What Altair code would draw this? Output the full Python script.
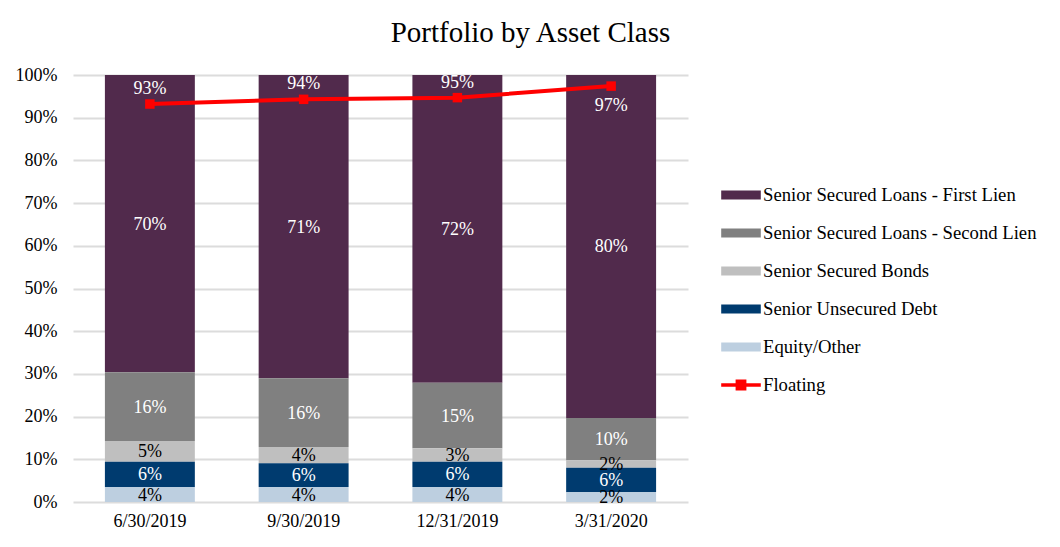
import altair as alt
import pandas as pd

dates = ["6/30/2019", "9/30/2019", "12/31/2019", "3/31/2020"]
cats = [
    "Senior Secured Loans - First Lien",
    "Senior Secured Loans - Second Lien",
    "Senior Secured Bonds",
    "Senior Unsecured Debt",
    "Equity/Other",
]
first_lien = [69.6, 71.0, 72.1, 80.3]
second_lien = [16.1, 16.1, 15.3, 9.9]
bonds = [4.9, 3.8, 3.2, 1.8]
unsecured = [5.9, 5.6, 5.9, 5.7]
equity = [3.5, 3.5, 3.5, 2.3]
floating = [93.2, 94.3, 94.7, 97.4]

colors = ["#512a4c", "#808080", "#bfbfbf", "#003b6f", "#bdcfe0"]

series = [first_lien, second_lien, bonds, unsecured, equity]
rows = []
for ci, (cat, vals) in enumerate(zip(cats, series)):
    for d, v in zip(dates, vals):
        rows.append({"date": d, "cat": cat, "value": v, "ord": len(cats) - ci})
df = pd.DataFrame(rows)
fl = pd.DataFrame({"date": dates, "v": floating, "series": ["Floating"] * 4})

FONT = "Liberation Serif"

x = alt.X("date:N", sort=dates, title=None,
          scale=alt.Scale(paddingInner=0.415, paddingOuter=0.2075),
          axis=alt.Axis(labelAngle=0, ticks=False, domain=False, labelPadding=10,
                        labelFontSize=18, labelFont=FONT, labelColor="black"))
yscale = alt.Scale(domain=[0, 100])

bar_path = "M-1.1,-0.25H1.1V0.25H-1.1Z"
line_path = "M-1.1,-0.1H1.1V0.1H-1.1Z M-0.3,-0.3H0.3V0.3H-0.3Z"

bars = alt.Chart(df).mark_bar().encode(
    x=x,
    y=alt.Y("value:Q", stack="zero", scale=yscale, title=None,
            axis=alt.Axis(values=list(range(0, 101, 10)), labelExpr="datum.value + '%'",
                          ticks=False, domain=False, labelPadding=16,
                          labelFontSize=18, labelFont=FONT, labelColor="black",
                          gridColor="#dcdcdc", gridWidth=2)),
    color=alt.Color("cat:N", scale=alt.Scale(domain=cats, range=colors),
                    legend=alt.Legend(title=None, orient="none", legendX=649, legendY=101,
                                      symbolType=bar_path, symbolSize=1296,
                                      labelFont=FONT, labelFontSize=18.7, labelColor="black",
                                      labelOffset=3, rowPadding=9, labelLimit=400)),
    order=alt.Order("ord:Q", sort="ascending"),
)

labels = alt.Chart(df).transform_stack(
    stack="value", groupby=["date"], sort=[alt.SortField("ord", order="ascending")],
    as_=["y0", "y1"]
).transform_calculate(
    mid="(datum.y0 + datum.y1) / 2",
    lab="round(datum.value) + '%'",
).mark_text(font=FONT, fontSize=18, baseline="middle", dy=1).encode(
    x=x,
    y=alt.Y("mid:Q", scale=yscale),
    text="lab:N",
    color=alt.condition(
        "datum.cat === 'Senior Secured Bonds' || datum.cat === 'Equity/Other'",
        alt.value("black"), alt.value("white")),
)

line = alt.Chart(fl).mark_line(color="#ff0000", strokeWidth=4).encode(
    x=x, y=alt.Y("v:Q", scale=yscale))

pts = alt.Chart(fl).mark_point(shape="square", filled=True, size=90, opacity=1).encode(
    x=x, y=alt.Y("v:Q", scale=yscale),
    fill=alt.Fill("series:N", scale=alt.Scale(domain=["Floating"], range=["#ff0000"]),
                  legend=alt.Legend(title=None, orient="none", legendX=649, legendY=291,
                                    symbolType=line_path, symbolSize=1296,
                                    labelFont=FONT, labelFontSize=18.7, labelColor="black",
                                    labelOffset=3)),
)

fl_above = alt.Chart(fl).transform_filter("datum.v < 96").transform_calculate(
    lab="round(datum.v) + '%'").mark_text(font=FONT, fontSize=18, color="white", dy=-15).encode(
    x=x, y=alt.Y("v:Q", scale=yscale), text="lab:N")
fl_below = alt.Chart(fl).transform_filter("datum.v >= 96").transform_calculate(
    lab="round(datum.v) + '%'").mark_text(font=FONT, fontSize=18, color="white", dy=20).encode(
    x=x, y=alt.Y("v:Q", scale=yscale), text="lab:N")

chart = alt.layer(bars, labels, line, pts, fl_above, fl_below).properties(
    width=615, height=427,
    autosize=alt.AutoSizeParams(type="none"),
    padding={"left": 65, "top": 67, "right": 364, "bottom": 32},
    title=alt.TitleParams("Portfolio by Asset Class", font=FONT, fontSize=29,
                          fontWeight="normal", color="black", anchor="middle",
                          dx=150, offset=18),
).configure_view(stroke=None).configure_legend(padding=0)

chart.save("out.html", embed_options={"renderer": "svg", "actions": False})
